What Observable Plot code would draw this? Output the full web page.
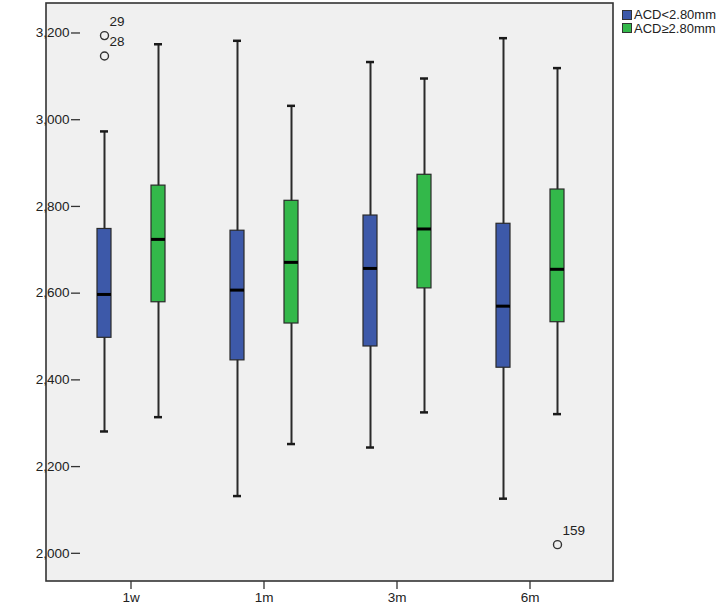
<!DOCTYPE html>
<html>
<head>
<meta charset="utf-8">
<script src="https://cdn.jsdelivr.net/npm/d3@7"></script>
<script src="https://cdn.jsdelivr.net/npm/@observablehq/plot@0.6"></script>
<style>
  html, body { margin: 0; padding: 0; background: #fff; }
  #wrap { position: relative; width: 724px; height: 607px; font-family: "Liberation Sans", Arial, sans-serif; }
  #wrap svg text { font-size: 13.5px; font-family: "Liberation Sans", Arial, sans-serif; fill: #222; }
  #legend { position: absolute; left: 622px; top: 8px; font-size: 13px; color: #222; }
  .row { display: flex; align-items: center; height: 13.5px; }
  .row span { line-height: 13px; white-space: nowrap; }
  .sw { width: 8px; height: 8px; border: 1px solid #333; margin-right: 2px; flex: none; }
</style>
</head>
<body>
<div id="wrap"><div id="legend"></div></div>
<script>
const periods = ["1w", "1m", "3m", "6m"];
const groups = ["ACD<2.80mm", "ACD\u22652.80mm"];
const groupColors = ["#3d59a9", "#33b84a"];
const yTicks = [2000, 2200, 2400, 2600, 2800, 3000, 3200];

// Box statistics per period (ACD<2.80mm)
const blueLow  = [2281, 2132, 2244, 2126];
const blueQ1   = [2497, 2445, 2477, 2428];
const blueMed  = [2597, 2607, 2657, 2570];
const blueQ3   = [2748, 2744, 2779, 2760];
const blueHigh = [2973, 3182, 3133, 3188];
// Box statistics per period (ACD≥2.80mm)
const greenLow  = [2314, 2252, 2325, 2321];
const greenQ1   = [2579, 2530, 2611, 2533];
const greenMed  = [2724, 2671, 2748, 2655];
const greenQ3   = [2848, 2813, 2873, 2839];
const greenHigh = [3174, 3032, 3095, 3119];

// Outliers
const outlierPeriod = ["1w", "1w", "6m"];
const outlierGroup  = [0, 0, 1];
const outlierValue  = [3194, 3147, 2020];
const outlierLabel  = ["29", "28", "159"];

const stats = [
  [blueLow, blueQ1, blueMed, blueQ3, blueHigh],
  [greenLow, greenQ1, greenMed, greenQ3, greenHigh]
];
const rows = [];
periods.forEach((p, i) => {
  groups.forEach((g, j) => {
    const s = stats[j];
    rows.push({period: p, group: g, low: s[0][i], q1: s[1][i], med: s[2][i], q3: s[3][i], high: s[4][i]});
  });
});
const outliers = outlierValue.map((v, i) => ({
  period: outlierPeriod[i], group: groups[outlierGroup[i]], value: v, label: outlierLabel[i]
}));

const M = {left: 46, right: 111, top: 3, bottom: 26};
const W = 724, H = 607;
const fmt = v => String(v).replace(/\B(?=(\d{3})+(?!\d))/g, ",");

const chart = Plot.plot({
  width: W,
  height: H,
  marginLeft: M.left,
  marginRight: M.right,
  marginTop: M.top,
  marginBottom: M.bottom,
  style: {fontFamily: "'Liberation Sans', Arial, sans-serif", fontSize: "13.5px", color: "#222", background: "transparent"},
  fx: {domain: periods, paddingInner: 0.241, paddingOuter: 0.241, label: null, axis: null},
  x: {domain: groups, paddingInner: 0.745, paddingOuter: 0.295, axis: null},
  y: {domain: [1935, 3268], label: null, axis: null},
  color: {domain: groups, range: groupColors},
  marks: [
    Plot.axisY(yTicks, {tickFormat: fmt, tickSize: 9, tickPadding: 2, label: null, stroke: "#333", strokeWidth: 1.3}),
    Plot.axisFx({anchor: "bottom", tickSize: 8, tickPadding: 3, label: null, stroke: "#333", strokeWidth: 1.3}),
    Plot.ruleX(rows, {fx: "period", x: "group", y1: "low", y2: "high", stroke: "#2a2a2a", strokeWidth: 2}),
    Plot.tickY(rows, {fx: "period", x: "group", y: "low", stroke: "#1a1a1a", strokeWidth: 2.5, insetLeft: 3, insetRight: 3}),
    Plot.tickY(rows, {fx: "period", x: "group", y: "high", stroke: "#1a1a1a", strokeWidth: 2.5, insetLeft: 3, insetRight: 3}),
    Plot.barY(rows, {fx: "period", x: "group", y1: "q1", y2: "q3", fill: "group", stroke: "#2a2a2a", strokeWidth: 1.2}),
    Plot.tickY(rows, {fx: "period", x: "group", y: "med", stroke: "#000", strokeWidth: 3}),
    Plot.dot(outliers, {fx: "period", x: "group", y: "value", r: 4, stroke: "#333", strokeWidth: 1.4, fill: "none"}),
    Plot.text(outliers, {fx: "period", x: "group", y: "value", text: "label", dx: 5, dy: -14, textAnchor: "start"})
  ]
});

// plot-area background and frame
d3.select(chart).insert("rect", ":first-child")
  .attr("x", M.left).attr("y", M.top)
  .attr("width", W - M.left - M.right).attr("height", H - M.top - M.bottom)
  .attr("fill", "#f0f0f0").attr("stroke", "#333").attr("stroke-width", 1.6);

document.getElementById("wrap").insertBefore(chart, document.getElementById("legend"));

const legend = d3.select("#legend");
groups.forEach((g, i) => {
  const r = legend.append("div").attr("class", "row");
  r.append("div").attr("class", "sw").style("background", groupColors[i]);
  r.append("span").text(g);
});
</script>
</body>
</html>
